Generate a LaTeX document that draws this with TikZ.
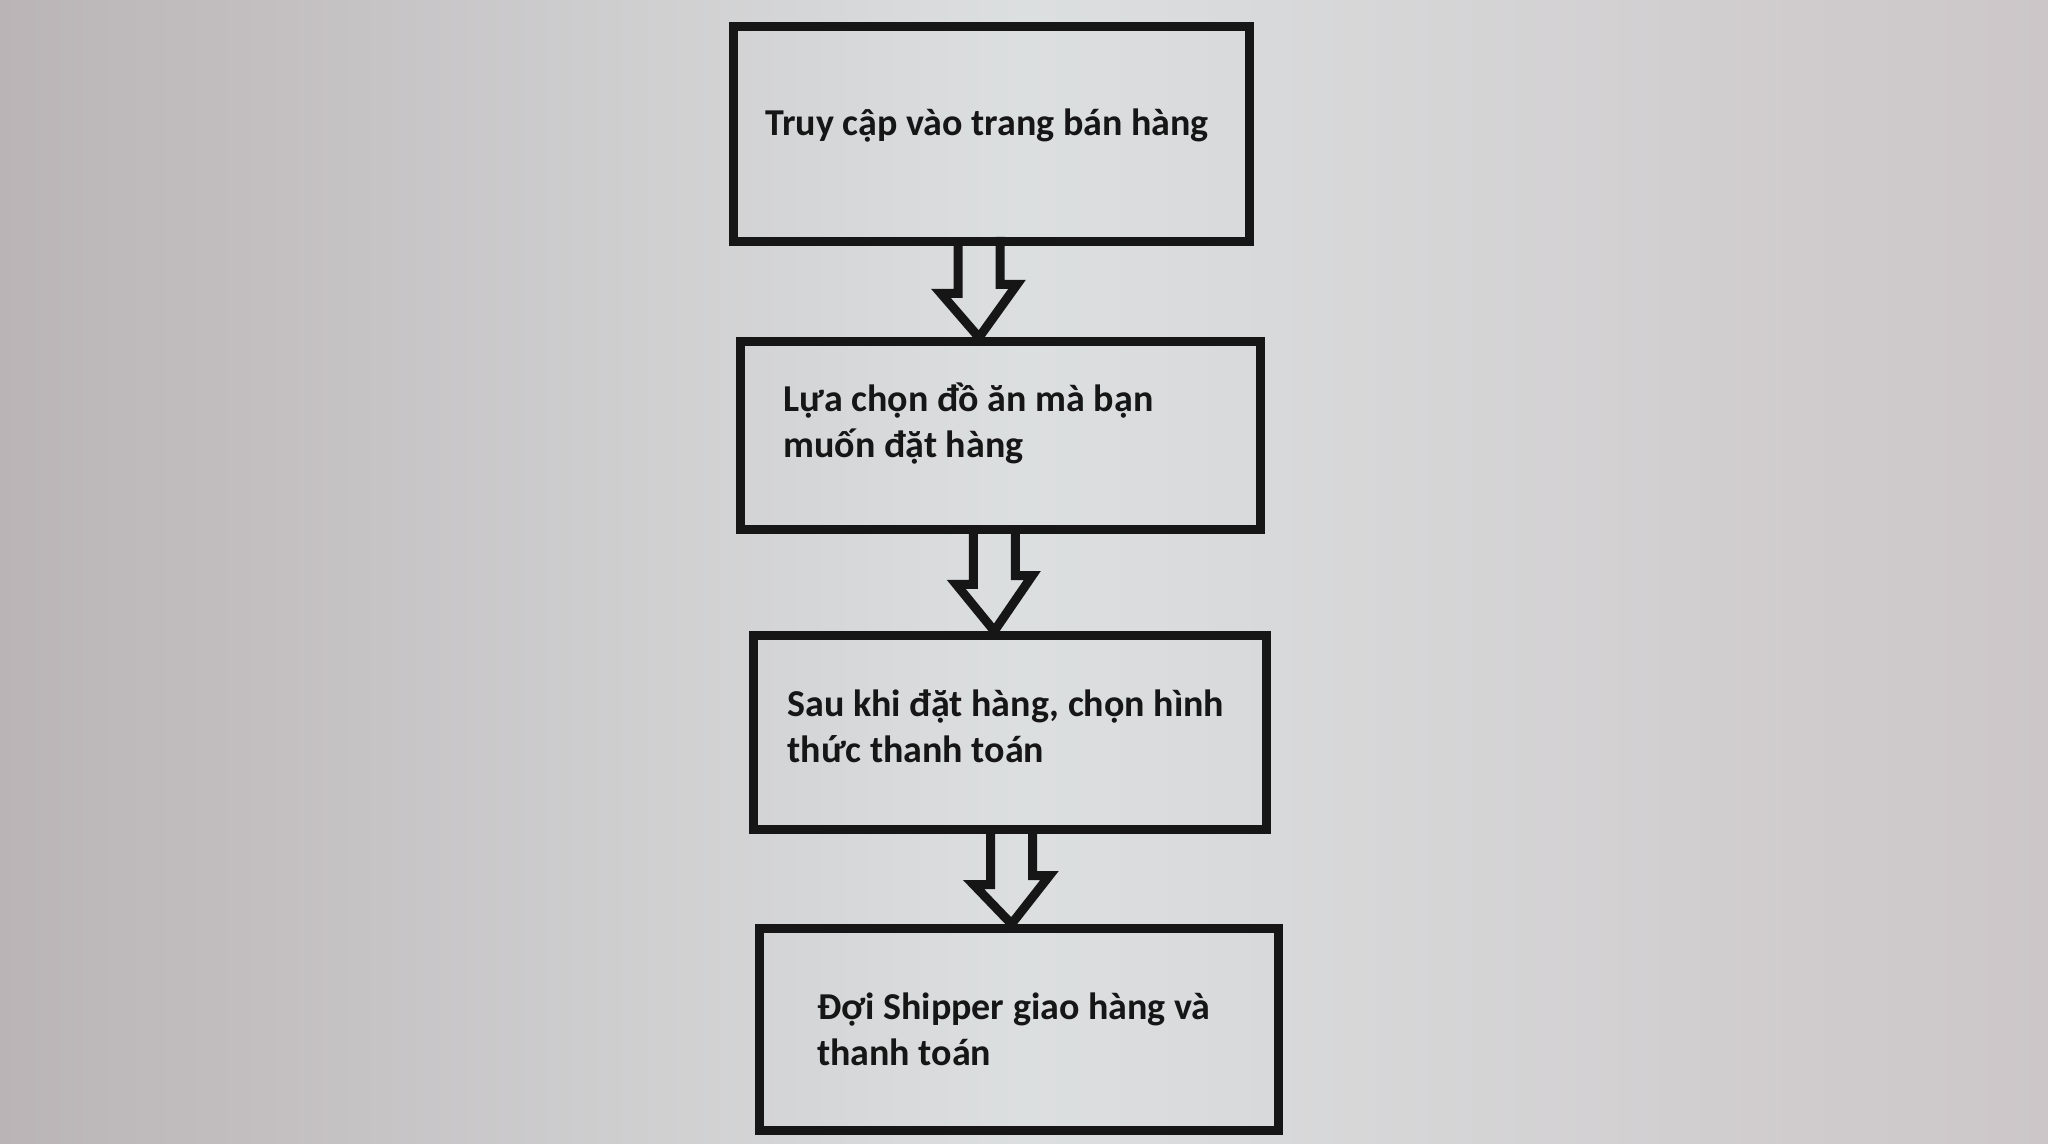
\documentclass[tikz,border=0pt]{standalone}
\usepackage{fontspec}
\setmainfont{Carlito}
\usetikzlibrary{calc}
\definecolor{bgL}{RGB}{186,180,182}
\definecolor{bgM}{RGB}{220,223,224}
\definecolor{bgR}{RGB}{204,198,200}
\definecolor{ink}{RGB}{22,22,22}
\tikzset{
  stepbox/.style={draw=ink, line width=4.5pt, inner sep=0pt},
  steptext/.style={anchor=base west, align=left, inner sep=0pt, text=ink,
    font=\bfseries\fontsize{19pt}{23pt}\selectfont},
  blockarrow/.style={draw=ink, line width=4.5pt, line join=miter},
}
\newcommand\blockarrowpath[4]{% start, tip, shaft length, head length
  \draw[blockarrow] (#1) ++(-21,0) -- ++(0,#3) -- ++(-17,0) -- (#2)
     -- ++(38,-#4) -- ++(-17,0) -- ++(0,-#3);
}
\begin{document}
\begin{tikzpicture}[x=0.5pt,y=-0.5pt]
  \shade[left color=bgL, right color=bgR, middle color=bgM] (0,0) rectangle (2048,1144);
  \useasboundingbox (0,0) rectangle (2048,1144);
  % boxes
  \node[stepbox, minimum width=258pt, minimum height=107.5pt] (b1) at (991,134) {};
  \node[stepbox, minimum width=259.75pt, minimum height=93.75pt] (b2) at (1000.3,435.7) {};
  \node[stepbox, minimum width=256.25pt, minimum height=97pt] (b3) at (1010,732.5) {};
  \node[stepbox, minimum width=259.5pt, minimum height=101pt] (b4) at (1019,1029.5) {};
  % texts (base = baseline of last line)
  \node[steptext] (t1) at (765,136) {Truy cập vào trang bán hàng};
  \node[steptext] (t2) at (783,457) {Lựa chọn đồ ăn mà bạn\\muốn đặt hàng};
  \node[steptext] (t3) at (787,762) {Sau khi đặt hàng, chọn hình\\thức thanh toán};
  \node[steptext] (t4) at (816.6,1065) {Đợi Shipper giao hàng và\\thanh toán};
  % arrows
  \coordinate (s1) at ([xshift=-6pt]b1.south);
  \coordinate (p1) at (s1 |- b2.north);
  \blockarrowpath{s1}{p1}{47.5}{53}
  \coordinate (s2) at ([xshift=-3pt]b2.south);
  \coordinate (p2) at (s2 |- b3.north);
  \blockarrowpath{s2}{p2}{50.5}{55.5}
  \coordinate (s3) at ([xshift=0.75pt]b3.south);
  \coordinate (p3) at (s3 |- b4.north);
  \blockarrowpath{s3}{p3}{50.5}{48.5}
\end{tikzpicture}
\end{document}
